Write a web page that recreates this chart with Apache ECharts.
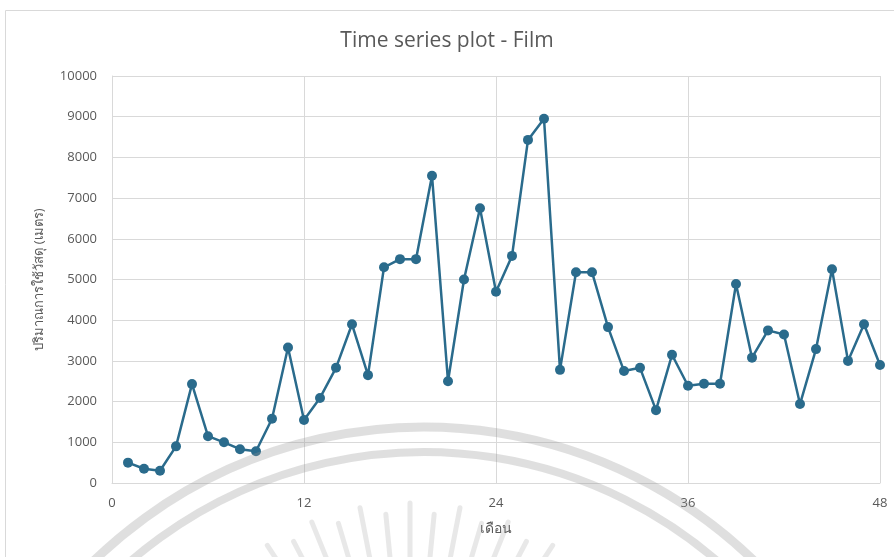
<!DOCTYPE html>
<html><head><meta charset="utf-8">
<script src="https://cdn.jsdelivr.net/npm/echarts@6/dist/echarts.min.js"></script>
<style>html,body{margin:0;padding:0;background:#fff}#c{width:894px;height:557px}</style>
</head><body><div id="c"></div>
<script>
const months = [1,2,3,4,5,6,7,8,9,10,11,12,13,14,15,16,17,18,19,20,21,22,23,24,25,26,27,28,29,30,31,32,33,34,35,36,37,38,39,40,41,42,43,44,45,46,47,48];
const usage = [500,350,300,900,2430,1150,1000,830,780,1580,3330,1550,2090,2830,3900,2650,5300,5500,5500,7550,2500,5000,6750,4700,5580,8430,8950,2780,5180,5180,3830,2750,2830,1790,3150,2390,2440,2440,4890,3080,3750,3650,1940,3290,5250,3000,3900,2900];
const xTicks = [0,12,24,36,48];
const title = 'Time series plot - Film';
const xName = 'เดือน';
const yName = 'ปริมาณการใช้วัสดุ (เมตร)';

const chart = echarts.init(document.getElementById('c'), null, {renderer:'canvas'});
const font = '"Open Sans","Noto Sans","DejaVu Sans",sans-serif';

// faint watermark (decorative)
const wm = [];
const wmCol = 'rgba(150,150,150,0.30)';
wm.push({type:'arc',shape:{cx:424,cy:901,r:474,startAngle:Math.PI*1.05,endAngle:Math.PI*1.95},style:{fill:'none',stroke:wmCol,lineWidth:9},silent:true,z:100});
wm.push({type:'arc',shape:{cx:424,cy:901,r:449,startAngle:Math.PI*1.05,endAngle:Math.PI*1.95},style:{fill:'none',stroke:wmCol,lineWidth:8},silent:true,z:100});
for (let k=0;k<21;k++){
  const a = (-145 + k*5.5)*Math.PI/180;
  const r0 = 190, r1 = (k%2===0)?262:252;
  wm.push({type:'line',shape:{x1:410+r0*Math.cos(a),y1:765+r0*Math.sin(a),x2:410+r1*Math.cos(a),y2:765+r1*Math.sin(a)},style:{stroke:'rgba(150,150,150,0.22)',lineWidth:5,lineCap:'round'},silent:true,z:100});
}

chart.setOption({
  animation:false,
  textStyle:{fontFamily:font},
  graphic:[{type:'rect',shape:{x:5.5,y:10.5,width:900,height:560},style:{fill:'none',stroke:'#d9d9d9',lineWidth:1},silent:true}].concat(wm),
  title:{text:title,left:'center',top:26,textStyle:{fontSize:21,fontWeight:'normal',color:'#595959',fontFamily:font}},
  grid:{left:112,right:14,top:76,bottom:74,containLabel:false},
  xAxis:{type:'value',min:0,max:48,interval:12,
    name:xName,nameLocation:'middle',nameGap:39,nameTextStyle:{fontSize:14,color:'#595959'},
    axisLine:{show:true,lineStyle:{color:'#d9d9d9'}},axisTick:{show:false},
    axisLabel:{color:'#595959',fontSize:13,margin:14},
    splitLine:{show:true,lineStyle:{color:'#d9d9d9',width:1}}},
  yAxis:{type:'value',min:0,max:10000,interval:1000,
    name:yName,nameLocation:'middle',nameGap:66,nameTextStyle:{fontSize:13,color:'#595959'},
    axisLine:{show:true,lineStyle:{color:'#d9d9d9'}},axisTick:{show:false},
    axisLabel:{color:'#595959',fontSize:13,margin:15,formatter:v=>String(v)},
    splitLine:{show:true,lineStyle:{color:'#d9d9d9',width:1}}},
  series:[{type:'line',data:months.map((m,i)=>[m,usage[i]]),
    symbol:'circle',symbolSize:10,
    lineStyle:{color:'#2a6b8c',width:2.5},
    itemStyle:{color:'#2a6b8c'}}]
});
</script></body></html>
